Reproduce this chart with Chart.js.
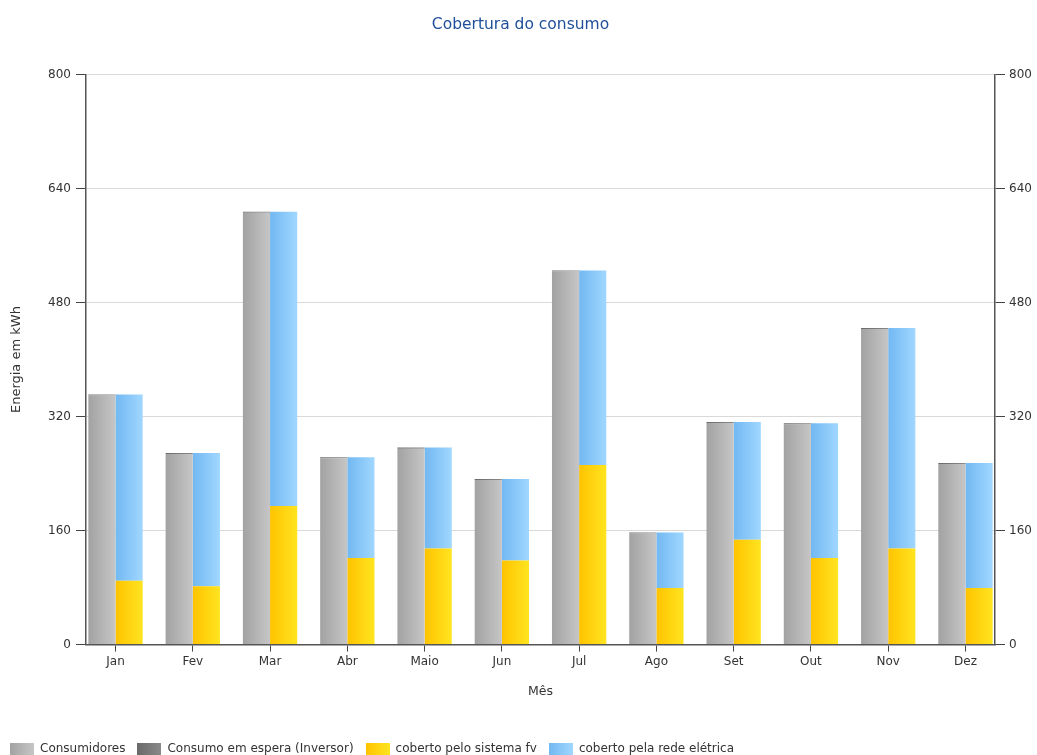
<!DOCTYPE html>
<html>
<head>
<meta charset="utf-8">
<script src="https://cdn.jsdelivr.net/npm/chart.js@4"></script>
<style>
  html, body { margin: 0; padding: 0; background: #fff; }
  #wrap { width: 1037px; height: 755px; }
</style>
</head>
<body>
<div id="wrap"><canvas id="chart" width="1037" height="755"></canvas></div>
<script>
// months on the x axis
const months = ['Jan', 'Fev', 'Mar', 'Abr', 'Maio', 'Jun', 'Jul', 'Ago', 'Set', 'Out', 'Nov', 'Dez'];

// left stack: consumption (kWh)
const consumidores = [349.5, 267.5, 606, 261.5, 275, 231, 523.5, 156, 311, 309, 443, 253.5];
const consumoEspera = [1.5, 1.5, 1.5, 1.5, 1.5, 1.5, 1.5, 1.5, 1.5, 1.5, 1.5, 1.5];

// right stack: how the consumption is covered (kWh)
const cobertoFv = [89.5, 82, 194.5, 121.5, 135, 118, 252, 79.5, 147, 121.5, 135, 79.5];
const cobertoRede = [261.5, 187, 413, 141.5, 141.5, 114.5, 273, 78, 165.5, 189, 309.5, 175.5];

const yTicks = [0, 160, 320, 480, 640, 800];

const FONT = 'Tahoma, "DejaVu Sans", sans-serif';

// horizontal gradient per bar, like the original renderer
const gradientStops = {
    gray: ['#a2a2a2', '#c6c6c6'],
    dark: ['#6a6a6a', '#8a8a8a'],
    yellow: ['#ffc300', '#ffe420'],
    blue: ['#72b8f2', '#a0d7ff']
};

const barGradients = {
    id: 'barGradients',
    beforeDatasetsDraw(chart) {
        const ctx = chart.ctx;
        chart.data.datasets.forEach((ds, i) => {
            const meta = chart.getDatasetMeta(i);
            const stops = gradientStops[ds.gradientKey];
            meta.data.forEach(bar => {
                const half = bar.width / 2;
                const g = ctx.createLinearGradient(bar.x - half, 0, bar.x + half, 0);
                g.addColorStop(0, stops[0]);
                g.addColorStop(1, stops[1]);
                bar.options.backgroundColor = g;
            });
        });
    }
};

// push the legend down to the bottom edge and a bit to the left
const legendDown = {
    id: 'legendDown',
    afterLayout(chart) {
        chart.legend.top += 10;
        chart.legend.bottom += 10;
        chart.legend.left -= 6;
    }
};

// legend boxes with the same gradients
function legendSwatch(stops) {
    const c = document.createElement('canvas');
    c.width = 24; c.height = 12;
    const x = c.getContext('2d');
    const g = x.createLinearGradient(0, 0, 24, 0);
    g.addColorStop(0, stops[0]);
    g.addColorStop(1, stops[1]);
    x.fillStyle = g;
    x.fillRect(0, 0, 24, 12);
    return c;
}

const datasets = [
    { label: 'Consumidores', data: consumidores, stack: 'consumo', gradientKey: 'gray', color: '#b5b5b5' },
    { label: 'Consumo em espera (Inversor)', data: consumoEspera, stack: 'consumo', gradientKey: 'dark', color: '#7d7d7d' },
    { label: 'coberto pelo sistema fv', data: cobertoFv, stack: 'cobertura', gradientKey: 'yellow', color: '#ffd400' },
    { label: 'coberto pela rede elétrica', data: cobertoRede, stack: 'cobertura', gradientKey: 'blue', color: '#8ac8fa' }
];

new Chart(document.getElementById('chart'), {
    type: 'bar',
    data: {
        labels: months.map((m, i) => i),
        datasets: datasets.map(d => Object.assign({
            // scriptable so each bar gets its own options object
            backgroundColor: ctx => d.color,
            borderWidth: 0,
            barPercentage: 1,
            categoryPercentage: 0.703
        }, d))
    },
    plugins: [barGradients, legendDown],
    options: {
        responsive: false,
        animation: false,
        layout: { padding: { top: 16, left: 4, right: 0, bottom: 0 } },
        plugins: {
            title: {
                display: true,
                text: 'Cobertura do consumo',
                color: '#1f4f9a',
                font: { family: FONT, size: 15.5, weight: 'normal' },
                padding: { top: 0, bottom: 40 }
            },
            legend: {
                position: 'bottom',
                align: 'start',
                labels: {
                    color: '#333',
                    font: { family: FONT, size: 12 },
                    usePointStyle: true,
                    pointStyleWidth: 24,
                    boxWidth: 24,
                    boxHeight: 12,
                    padding: 12,
                    generateLabels(chart) {
                        return chart.data.datasets.map((ds, i) => ({
                            text: ds.label,
                            pointStyle: legendSwatch(gradientStops[ds.gradientKey]),
                            fillStyle: ds.color,
                            strokeStyle: 'transparent',
                            lineWidth: 0,
                            datasetIndex: i,
                            fontColor: '#333'
                        }));
                    }
                }
            },
            tooltip: { enabled: false }
        },
        scales: {
            x: {
                type: 'linear',
                stacked: true,
                offset: false,
                min: -0.382,
                max: 11.382,
                afterBuildTicks(scale) { scale.ticks = months.map((m, i) => ({ value: i })); },
                grid: { offset: false, drawOnChartArea: false, tickLength: 7, tickColor: '#444' },
                border: { display: true, color: '#555', width: 1.5 },
                ticks: {
                    color: '#333',
                    font: { family: FONT, size: 12 },
                    padding: 3,
                    callback: v => months[v]
                },
                title: {
                    display: true,
                    text: 'Mês',
                    color: '#333',
                    font: { family: FONT, size: 12.5 },
                    padding: { top: 12, bottom: 22 }
                }
            },
            y: {
                stacked: true,
                position: 'left',
                min: 0,
                max: 800,
                afterBuildTicks(scale) { scale.ticks = yTicks.map(v => ({ value: v })); },
                afterFit(scale) { scale.width = 82; },
                grid: { color: '#d9d9d9', lineWidth: 1, tickLength: 10, tickColor: '#444' },
                border: { display: true, color: '#555', width: 1.5 },
                ticks: { color: '#333', font: { family: FONT, size: 12 }, padding: 5 },
                title: {
                    display: true,
                    text: 'Energia em kWh',
                    color: '#333',
                    font: { family: FONT, size: 13 },
                    padding: { top: 5, bottom: 10 }
                }
            },
            y2: {
                position: 'right',
                min: 0,
                max: 800,
                afterBuildTicks(scale) { scale.ticks = yTicks.map(v => ({ value: v })); },
                afterFit(scale) { scale.width = 42; },
                grid: { drawOnChartArea: false, tickLength: 10, tickColor: '#444' },
                border: { display: true, color: '#555', width: 1.5 },
                ticks: { color: '#333', font: { family: FONT, size: 12 }, padding: 4 }
            }
        }
    }
});
</script>
</body>
</html>
